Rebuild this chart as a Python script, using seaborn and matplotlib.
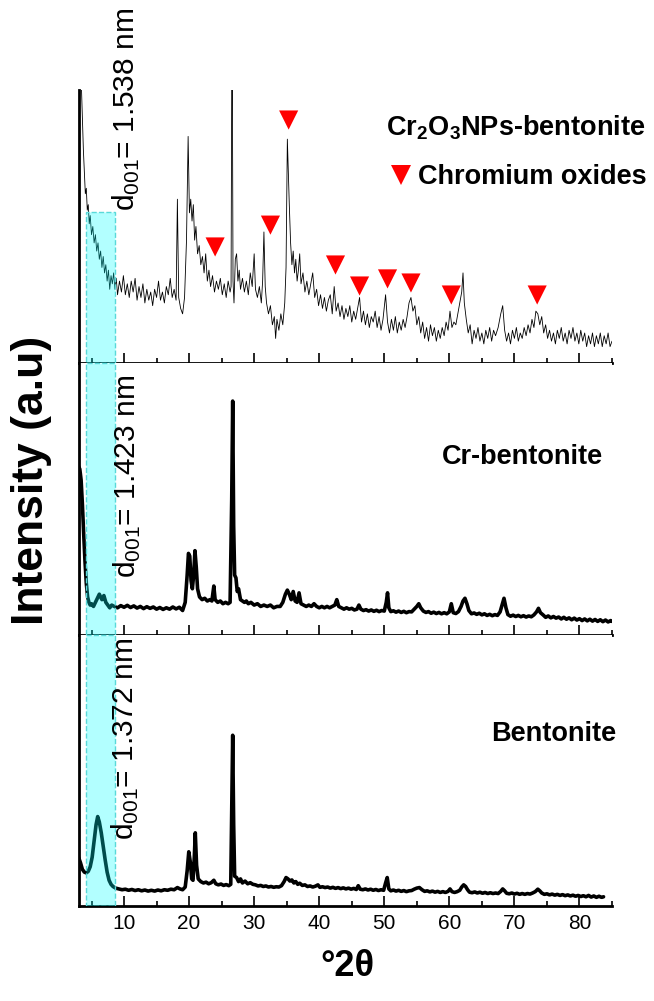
import matplotlib
matplotlib.use('Agg')
import matplotlib.pyplot as plt
import pandas as pd
import seaborn as sns
from matplotlib.lines import Line2D
from matplotlib.ticker import MultipleLocator

# ---------------------------------------------------------------
# Data (x = degrees 2-theta, y = relative
# intensity inside each panel, 0 = panel bottom, 100 = panel top)
# ---------------------------------------------------------------
cr2o3_scan = [
    (3.2, 130), (3.4, 105), (3.6, 90), (3.75, 78), (3.9, 70), (4.05, 62), (4.2, 64),
    (4.35, 56), (4.5, 58), (4.65, 51), (4.8, 54), (5.0, 47), (5.2, 50), (5.4, 44),
    (5.6, 47), (5.8, 41), (6.0, 44), (6.2, 38), (6.4, 41), (6.6, 35), (6.8, 39),
    (7.0, 33), (7.2, 36), (7.4, 30), (7.6, 34), (7.8, 27), (8.0, 32), (8.2, 29),
    (8.4, 33), (8.6, 27), (8.8, 31), (9.0, 25), (9.3, 30), (9.6, 26), (9.9, 32),
    (10.2, 25), (10.5, 29), (10.8, 24), (11.1, 30), (11.4, 26), (11.7, 31), (12.0, 23),
    (12.3, 28), (12.6, 24), (12.9, 29), (13.2, 22), (13.5, 27), (13.8, 23), (14.1, 26),
    (14.4, 21), (14.7, 27), (15.0, 24), (15.3, 30), (15.6, 23), (15.9, 26), (16.2, 22),
    (16.5, 28), (16.8, 25), (17.1, 31), (17.4, 24), (17.7, 27), (18.0, 23), (18.2, 60),
    (18.4, 24), (18.7, 20), (19.0, 18), (19.3, 24), (19.6, 45), (19.85, 83), (20.05, 55),
    (20.25, 60), (20.45, 52), (20.65, 58), (20.85, 45), (21.05, 50), (21.3, 40),
    (21.55, 43), (21.8, 36), (22.05, 39), (22.3, 33), (22.55, 40), (22.8, 30),
    (23.05, 34), (23.3, 28), (23.6, 32), (23.9, 26), (24.2, 30), (24.5, 27), (24.8, 31),
    (25.1, 25), (25.4, 29), (25.7, 24), (26.0, 30), (26.3, 26), (26.45, 28), (26.6, 140),
    (26.75, 30), (26.9, 22), (27.1, 38), (27.3, 40), (27.5, 30), (27.7, 34), (27.9, 27),
    (28.2, 31), (28.5, 26), (28.8, 30), (29.1, 25), (29.4, 33), (29.7, 28), (30.0, 40),
    (30.2, 27), (30.5, 24), (30.8, 28), (31.1, 22), (31.3, 30), (31.5, 48), (31.7, 28),
    (31.9, 22), (32.2, 18), (32.5, 21), (32.8, 14), (33.1, 17), (33.3, 9), (33.5, 16),
    (33.8, 12), (34.1, 18), (34.4, 14), (34.7, 22), (34.9, 35), (35.1, 82), (35.25, 70),
    (35.4, 58), (35.6, 44), (35.8, 36), (36.0, 41), (36.2, 33), (36.4, 38), (36.6, 30),
    (36.8, 34), (37.0, 40), (37.2, 29), (37.5, 33), (37.8, 26), (38.1, 30), (38.4, 25),
    (38.7, 29), (39.0, 33), (39.3, 24), (39.6, 27), (39.9, 21), (40.2, 25), (40.5, 20),
    (40.8, 24), (41.1, 19), (41.4, 23), (41.7, 25), (42.0, 18), (42.3, 28), (42.6, 19),
    (42.9, 22), (43.2, 17), (43.5, 21), (43.8, 16), (44.1, 20), (44.4, 17), (44.7, 21),
    (45.0, 15), (45.3, 19), (45.6, 16), (45.9, 20), (46.2, 24), (46.5, 15), (46.8, 19),
    (47.1, 14), (47.4, 18), (47.7, 13), (48.0, 17), (48.3, 15), (48.6, 19), (48.9, 13),
    (49.2, 17), (49.5, 12), (49.8, 16), (50.2, 25), (50.5, 15), (50.8, 11), (51.1, 16),
    (51.4, 12), (51.7, 17), (52.0, 11), (52.3, 15), (52.6, 12), (52.9, 16), (53.2, 13),
    (53.5, 17), (53.8, 22), (54.1, 24), (54.4, 19), (54.7, 21), (55.0, 14), (55.3, 17),
    (55.6, 11), (55.9, 15), (56.2, 9), (56.5, 13), (56.8, 8), (57.1, 14), (57.4, 10),
    (57.7, 13), (58.0, 8), (58.3, 12), (58.6, 9), (58.9, 13), (59.2, 10), (59.5, 15),
    (59.8, 12), (60.1, 19), (60.4, 13), (60.7, 15), (61.0, 14), (61.3, 18), (61.6, 22),
    (61.9, 26), (62.1, 33), (62.3, 22), (62.6, 16), (62.9, 11), (63.2, 14), (63.5, 7),
    (63.8, 12), (64.1, 9), (64.4, 13), (64.7, 8), (65.0, 11), (65.3, 7), (65.6, 12),
    (65.9, 9), (66.2, 13), (66.5, 8), (66.8, 12), (67.1, 10), (67.5, 13), (67.9, 18),
    (68.2, 21), (68.5, 12), (68.8, 8), (69.1, 11), (69.4, 7), (69.7, 12), (70.0, 9),
    (70.3, 13), (70.6, 8), (70.9, 11), (71.2, 9), (71.5, 13), (71.8, 10), (72.1, 14),
    (72.4, 11), (72.7, 16), (73.0, 13), (73.3, 19), (73.6, 18), (73.9, 14), (74.2, 17),
    (74.5, 11), (74.8, 14), (75.1, 9), (75.4, 12), (75.7, 8), (76.0, 11), (76.3, 7),
    (76.6, 12), (76.9, 9), (77.2, 13), (77.5, 8), (77.8, 11), (78.1, 7), (78.4, 12),
    (78.7, 9), (79.0, 13), (79.3, 8), (79.6, 11), (79.9, 7), (80.2, 12), (80.5, 8),
    (80.8, 11), (81.1, 6), (81.4, 10), (81.7, 7), (82.0, 11), (82.3, 6), (82.6, 10),
    (82.9, 7), (83.2, 11), (83.5, 6), (83.8, 10), (84.1, 7), (84.4, 11), (84.7, 6),
    (85.0, 8),
]

cr_scan = [
    (3.0, 62), (3.2, 61), (3.4, 57), (3.6, 48), (3.8, 37), (4.0, 27), (4.2, 19),
    (4.4, 14), (4.6, 12), (4.8, 11), (5.0, 11.5), (5.3, 10.5), (5.6, 12), (5.9, 13.5),
    (6.2, 15), (6.4, 14), (6.6, 13), (6.9, 14.5), (7.2, 12), (7.5, 11), (7.8, 10),
    (8.1, 11), (8.5, 10.5), (9.0, 10), (9.5, 10.8), (10.0, 10.2), (10.5, 10.9),
    (11.0, 10.1), (11.5, 10.7), (12.0, 9.9), (12.5, 10.5), (13.0, 9.7), (13.5, 10.4),
    (14.0, 9.8), (14.5, 10.3), (15.0, 9.5), (15.5, 10.1), (16.0, 9.4), (16.5, 10.0),
    (17.0, 9.5), (17.5, 10.3), (18.0, 9.6), (18.5, 10.2), (19.0, 9.0), (19.4, 12),
    (19.7, 22), (19.9, 30), (20.1, 29), (20.3, 20), (20.5, 17), (20.7, 22), (20.9, 31),
    (21.1, 25), (21.3, 17), (21.6, 14), (22.0, 13), (22.4, 13.5), (22.8, 12.5),
    (23.2, 13), (23.5, 12.5), (23.8, 18), (24.0, 13), (24.4, 12), (24.8, 12.5),
    (25.2, 11.5), (25.6, 12), (26.0, 11.5), (26.3, 12), (26.55, 50), (26.7, 86),
    (26.85, 40), (27.0, 22), (27.2, 21), (27.4, 16), (27.6, 17), (27.9, 13), (28.2, 12.5),
    (28.5, 12), (28.8, 12.5), (29.1, 11.5), (29.5, 12), (30.0, 11), (30.5, 11.5),
    (31.0, 10.5), (31.5, 11), (32.0, 10.5), (32.5, 11), (33.0, 10), (33.5, 10.5),
    (34.0, 10.5), (34.4, 12), (34.8, 15), (35.1, 16.5), (35.4, 15), (35.7, 13), (36.0, 16),
    (36.3, 12.5), (36.6, 12), (36.9, 15.5), (37.2, 11.5), (37.6, 11), (38.0, 10.5),
    (38.4, 11), (38.8, 10.5), (39.2, 11.5), (39.6, 10.5), (40.0, 10), (40.4, 10.5),
    (40.8, 10), (41.2, 10.5), (41.6, 10), (42.0, 10.5), (42.4, 11), (42.7, 13), (43.0, 10.5),
    (43.4, 10), (43.8, 9.5), (44.2, 10), (44.6, 9.5), (45.0, 9.8), (45.4, 9.2), (45.8, 9.5),
    (46.1, 11), (46.4, 9.5), (46.8, 9.0), (47.2, 9.3), (47.6, 8.8), (48.0, 9.2), (48.4, 8.7),
    (48.8, 9.1), (49.2, 8.6), (49.6, 9.0), (50.0, 8.8), (50.3, 12), (50.5, 15.5),
    (50.7, 10), (51.0, 8.6), (51.4, 8.9), (51.8, 8.4), (52.2, 8.8), (52.6, 8.3), (53.0, 8.7),
    (53.4, 8.2), (53.8, 8.6), (54.2, 8.5), (54.6, 9.5), (55.0, 10.5), (55.3, 11.5),
    (55.6, 10), (56.0, 8.8), (56.4, 8.3), (56.8, 8.6), (57.2, 8.0), (57.6, 8.4), (58.0, 7.9),
    (58.4, 8.3), (58.8, 7.8), (59.2, 8.2), (59.6, 7.8), (60.0, 8.5), (60.3, 11.5),
    (60.6, 8.2), (61.0, 7.9), (61.4, 8.6), (61.8, 10.5), (62.1, 12.5), (62.4, 13.5),
    (62.7, 11.5), (63.0, 9), (63.4, 7.8), (63.8, 8.1), (64.2, 7.6), (64.6, 8.0), (65.0, 7.4),
    (65.4, 7.8), (65.8, 7.2), (66.2, 7.6), (66.6, 7.1), (67.0, 7.5), (67.4, 7.2), (67.8, 8.5),
    (68.1, 11), (68.4, 13.5), (68.7, 10), (69.0, 7.5), (69.4, 6.9), (69.8, 7.3), (70.2, 6.8),
    (70.6, 7.2), (71.0, 6.7), (71.4, 7.1), (71.8, 6.6), (72.2, 7.0), (72.6, 6.7), (73.0, 7.4),
    (73.4, 8.5), (73.7, 9.8), (74.0, 8.2), (74.4, 7.4), (74.8, 6.5), (75.2, 7.0), (75.6, 6.3),
    (76.0, 6.8), (76.4, 6.2), (76.8, 6.6), (77.2, 5.9), (77.6, 6.5), (78.0, 5.8), (78.4, 6.3),
    (78.8, 5.6), (79.2, 6.2), (79.6, 5.5), (80.0, 6.0), (80.4, 5.3), (80.8, 5.9), (81.2, 5.2),
    (81.6, 5.8), (82.0, 5.1), (82.4, 5.7), (82.8, 5.0), (83.2, 5.6), (83.6, 4.9), (84.0, 5.5),
    (84.4, 4.8), (84.8, 5.3), (85.0, 5.0),
]

bentonite_scan = [
    (3.0, 18), (3.3, 16), (3.6, 13.5), (3.9, 12.5), (4.2, 12.2), (4.5, 12.8), (4.8, 14.5),
    (5.1, 18), (5.4, 24), (5.7, 30), (5.95, 33), (6.2, 31), (6.5, 27), (6.8, 22), (7.1, 17),
    (7.4, 12.5), (7.7, 9.5), (8.0, 8), (8.3, 7.2), (8.7, 6.6), (9.2, 6.3), (9.7, 6.0),
    (10.2, 6.2), (10.7, 5.8), (11.2, 6.1), (11.7, 5.7), (12.2, 6.0), (12.7, 5.6), (13.2, 5.9),
    (13.7, 5.5), (14.2, 5.8), (14.7, 5.5), (15.2, 5.9), (15.7, 5.6), (16.2, 6.0), (16.7, 5.8),
    (17.2, 6.2), (17.7, 6.0), (18.2, 6.8), (18.6, 6.3), (19.0, 6.0), (19.4, 7), (19.7, 13),
    (19.95, 20), (20.2, 16), (20.4, 10), (20.6, 9.5), (20.8, 18), (20.95, 27), (21.15, 15),
    (21.4, 10), (21.8, 9), (22.2, 8.5), (22.6, 8.8), (23.0, 8.2), (23.4, 8.6), (23.8, 9.5),
    (24.1, 8.2), (24.5, 7.8), (24.9, 8.1), (25.3, 7.6), (25.7, 7.9), (26.1, 7.5), (26.4, 8),
    (26.55, 35), (26.7, 63), (26.85, 30), (27.0, 11), (27.3, 10.5), (27.6, 9), (27.9, 10),
    (28.2, 8.5), (28.6, 9.2), (29.0, 8.2), (29.4, 8.6), (29.8, 8.0), (30.2, 7.8), (30.6, 7.4),
    (31.0, 7.6), (31.4, 7.2), (31.8, 7.4), (32.2, 7.0), (32.6, 7.2), (33.0, 6.9), (33.4, 7.1),
    (33.8, 7.0), (34.2, 7.5), (34.6, 9), (34.9, 10.5), (35.2, 10), (35.5, 9.2), (35.8, 9.6),
    (36.1, 8.5), (36.4, 9), (36.7, 8), (37.0, 8.4), (37.4, 7.6), (37.8, 7.8), (38.2, 7.2),
    (38.6, 7.4), (39.0, 7.0), (39.4, 7.3), (39.8, 7.8), (40.1, 6.9), (40.5, 7.1), (40.9, 6.8),
    (41.3, 7.0), (41.7, 6.6), (42.1, 6.9), (42.5, 6.5), (42.9, 6.8), (43.3, 6.4), (43.7, 6.7),
    (44.1, 6.3), (44.5, 6.6), (44.9, 6.2), (45.3, 6.5), (45.7, 6.1), (46.0, 7.5), (46.3, 6.2),
    (46.7, 6.0), (47.1, 6.3), (47.5, 5.9), (47.9, 6.2), (48.3, 5.8), (48.7, 6.1), (49.1, 5.7),
    (49.5, 6.0), (49.9, 5.8), (50.2, 8.5), (50.45, 10.5), (50.7, 6.3), (51.0, 5.6), (51.4, 5.9),
    (51.8, 5.5), (52.2, 5.8), (52.6, 5.4), (53.0, 5.7), (53.4, 5.3), (53.8, 5.6), (54.2, 5.7),
    (54.6, 6.2), (55.0, 6.6), (55.4, 6.8), (55.8, 6.0), (56.2, 5.4), (56.6, 5.6), (57.0, 5.2),
    (57.4, 5.5), (57.8, 5.1), (58.2, 5.4), (58.6, 5.0), (59.0, 5.3), (59.4, 5.0), (59.8, 5.4),
    (60.1, 6.3), (60.4, 5.3), (60.8, 5.0), (61.2, 5.3), (61.6, 5.8), (61.9, 7.0), (62.2, 7.8),
    (62.5, 7.2), (62.8, 6.0), (63.1, 5.1), (63.5, 4.9), (63.9, 5.2), (64.3, 4.8), (64.7, 5.1),
    (65.1, 4.7), (65.5, 5.0), (65.9, 4.6), (66.3, 4.9), (66.7, 4.6), (67.1, 4.8), (67.5, 4.6),
    (67.9, 5.4), (68.2, 6.3), (68.5, 5.6), (68.8, 4.7), (69.2, 4.5), (69.6, 4.8), (70.0, 4.4),
    (70.4, 4.7), (70.8, 4.3), (71.2, 4.6), (71.6, 4.3), (72.0, 4.6), (72.4, 4.4), (72.8, 4.8),
    (73.2, 5.3), (73.6, 6.2), (73.9, 5.6), (74.2, 4.8), (74.6, 4.3), (75.0, 4.5), (75.4, 4.1),
    (75.8, 4.4), (76.2, 4.0), (76.6, 4.3), (77.0, 3.9), (77.4, 4.2), (77.8, 3.8), (78.2, 4.1),
    (78.6, 3.7), (79.0, 4.0), (79.4, 3.6), (79.8, 3.9), (80.2, 3.5), (80.6, 3.8), (81.0, 3.4),
    (81.4, 3.9), (81.8, 3.3), (82.2, 3.7), (82.6, 3.2), (83.0, 3.6), (83.4, 3.2), (83.7, 3.4),
]

# chromium oxide reflections marked in the top pattern
oxide_x = [24.0, 32.5, 35.3, 42.5, 46.2, 50.5, 54.1, 60.3, 73.5]
oxide_y = [42.5, 50.5, 89.0, 35.9, 28.2, 30.8, 29.3, 24.9, 24.9]

sample_names = [r'Cr$_{\mathbf{2}}$O$_{\mathbf{3}}$NPs-bentonite', 'Cr-bentonite', 'Bentonite']
d001_labels = [r'd$_{\mathrm{001}}$= 1.538 nm', r'd$_{\mathrm{001}}$= 1.423 nm',
               r'd$_{\mathrm{001}}$= 1.372 nm']
xticks = [10, 20, 30, 40, 50, 60, 70, 80]

# ---------------------------------------------------------------
# Style
# ---------------------------------------------------------------
sns.set_style('ticks')
plt.rcParams['font.family'] = ['Liberation Sans', 'DejaVu Sans']
plt.rcParams['mathtext.fontset'] = 'custom'
plt.rcParams['mathtext.rm'] = 'Liberation Sans'
plt.rcParams['mathtext.bf'] = 'Liberation Sans:bold'
plt.rcParams['text.color'] = 'black'
plt.rcParams['axes.labelcolor'] = 'black'
plt.rcParams['xtick.color'] = 'black'
plt.rcParams['ytick.color'] = 'black'
plt.rcParams['axes.edgecolor'] = 'black'

fig = plt.figure(figsize=(6.54, 10.01), dpi=100)
W, H = 654, 1001
x0, x1 = 78.5, 612
panel_rows = [(90, 363), (363, 635), (635, 906)]

scans = [cr2o3_scan, cr_scan, bentonite_scan]
widths = [0.6, 2.6, 2.6]
span_top = [0.553, 1.0, 1.0]
name_pos = [(1.062, 0.861), (0.983, 0.654), (1.0075, 0.635)]
d_pos = [(10.4, 55.5), (10.5, 21.0), (10.2, 24.4)]

axes = []
for i, (top, bot) in enumerate(panel_rows):
    ax = fig.add_axes([x0 / W, 1 - bot / H, (x1 - x0) / W, (bot - top) / H])
    df = pd.DataFrame(scans[i], columns=['two_theta', 'intensity'])
    sns.lineplot(data=df, x='two_theta', y='intensity', sort=False, estimator=None,
                 color='black', linewidth=widths[i], ax=ax, zorder=2)

    # basal reflection window
    ax.axvspan(4.2, 8.6, ymin=0, ymax=span_top[i], facecolor=(0, 1, 1, 0.3),
               edgecolor=(0.35, 0.85, 0.85), linestyle='--', linewidth=1.0, zorder=3)

    ax.set_xlim(3, 85)
    ax.set_ylim(0, 100)
    ax.set_xlabel('')
    ax.set_ylabel('')
    ax.set_yticks([])
    ax.set_xticks(xticks)
    ax.xaxis.set_minor_locator(MultipleLocator(5))
    ax.tick_params(axis='x', which='major', direction='in', length=7, width=1.2,
                   labelsize=15, pad=6, top=False, color='black', labelcolor='black')
    ax.tick_params(axis='x', which='minor', direction='in', length=3.5, width=1.2,
                   top=False, color='black')
    if i < 2:
        ax.tick_params(axis='x', labelbottom=False)
    for s in ['top', 'right']:
        ax.spines[s].set_visible(False)
    for s in ['left', 'bottom']:
        ax.spines[s].set_linewidth(2)
        ax.spines[s].set_color('black')

    ax.text(name_pos[i][0], name_pos[i][1], sample_names[i], transform=ax.transAxes,
            ha='right', va='center', fontsize=19.5, fontweight='bold', clip_on=False)
    ax.text(d_pos[i][0], d_pos[i][1], d001_labels[i], rotation=90, ha='center',
            va='bottom', fontsize=21.5, clip_on=False, zorder=5)
    axes.append(ax)

top_ax = axes[0]
sns.scatterplot(x=oxide_x, y=oxide_y, marker='v', s=190, color='red',
                edgecolor='none', ax=top_ax, zorder=4, legend=False)
handle = Line2D([], [], marker='v', color='red', linestyle='', markersize=14,
                markeredgewidth=0)
top_ax.legend([handle], ['Chromium oxides'], loc='center right',
              bbox_to_anchor=(647 / W, 1 - 177 / H), bbox_transform=fig.transFigure,
              frameon=False, handletextpad=0.15, handlelength=1.0, borderpad=0,
              borderaxespad=0, prop={'size': 19.5, 'weight': 'bold'})

fig.text(32 / W, 1 - 480 / H, 'Intensity (a.u)', rotation=90, ha='center', va='center',
         fontsize=32, fontweight='bold')
fig.text(347 / W, 1 - 967 / H, '°2θ', ha='center', va='center', fontsize=26,
         fontweight='bold')

fig.savefig('out.png', dpi=100)
